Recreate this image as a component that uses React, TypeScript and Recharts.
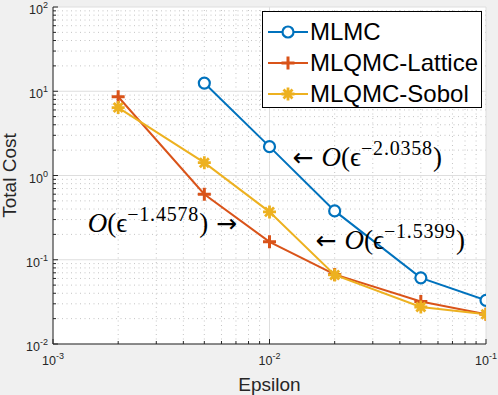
import {
  LineChart,
  Line,
  XAxis,
  YAxis,
  CartesianGrid,
  ReferenceLine,
  ReferenceDot,
  Legend,
} from "recharts";

// Epsilon values and total cost per method
const epsMLMC = [0.005, 0.01, 0.02, 0.05, 0.1];
const costMLMC = [12.5, 2.2, 0.38, 0.061, 0.033];
const epsQMC = [0.002, 0.005, 0.01, 0.02, 0.05, 0.1];
const costLattice = [8.6, 0.6, 0.163, 0.067, 0.032, 0.0225];
const costSobol = [6.4, 1.42, 0.37, 0.066, 0.0275, 0.0225];

// decade ticks and the minor grid between them
const xMajor = [0.001, 0.01, 0.1];
const xMinor = [
  0.002, 0.003, 0.004, 0.005, 0.006, 0.007, 0.008, 0.009,
  0.02, 0.03, 0.04, 0.05, 0.06, 0.07, 0.08, 0.09,
];
const yMajor = [0.01, 0.1, 1, 10, 100];
const yMinor = [
  0.02, 0.03, 0.04, 0.05, 0.06, 0.07, 0.08, 0.09,
  0.2, 0.3, 0.4, 0.5, 0.6, 0.7, 0.8, 0.9,
  2, 3, 4, 5, 6, 7, 8, 9,
  20, 30, 40, 50, 60, 70, 80, 90,
];
const tickExp: Record<string, string> = {
  "0.001": "-3", "0.01": "-2", "0.1": "-1", "1": "0", "10": "1", "100": "2",
};

// slope annotations: anchor (eps, cost) at the text baseline
const notes = [
  { x: 0.0128, y: 1.28, exp: "\u22122.0358", side: "left" },
  { x: 0.00708, y: 0.211, exp: "\u22121.4578", side: "right" },
  { x: 0.01634, y: 0.1325, exp: "\u22121.5399", side: "left" },
];

const series = [
  { name: "MLMC", color: "#0072BD", marker: "circle", xs: epsMLMC, ys: costMLMC },
  { name: "MLQMC-Lattice", color: "#D95319", marker: "plus", xs: epsQMC, ys: costLattice },
  { name: "MLQMC-Sobol", color: "#EDB120", marker: "star", xs: epsQMC, ys: costSobol },
];

const AX = "#262626";
const SANS = "'Liberation Sans', Arial, Helvetica, sans-serif";
const SERIF = "'Liberation Serif', 'Times New Roman', serif";

const isMajor = (v: number) => xMajor.includes(v) || yMajor.includes(v);

function Marker({ cx, cy, kind, color }: { cx: number; cy: number; kind: string; color: string }) {
  if (cx == null || cy == null) return null;
  if (kind === "circle")
    return <circle cx={cx} cy={cy} r={5.5} fill="#fff" stroke={color} strokeWidth={2.2} />;
  if (kind === "plus")
    return (
      <path
        d={`M${cx - 6.5},${cy}H${cx + 6.5}M${cx},${cy - 6.5}V${cy + 6.5}`}
        stroke={color}
        strokeWidth={3}
        fill="none"
      />
    );
  const d = 4.5;
  return (
    <path
      d={`M${cx - 6.5},${cy}H${cx + 6.5}M${cx},${cy - 6.5}V${cy + 6.5}M${cx - d},${cy - d}L${cx + d},${cy + d}M${cx - d},${cy + d}L${cx + d},${cy - d}`}
      stroke={color}
      strokeWidth={2.8}
      fill="none"
    />
  );
}

function Sup({ base, exp, x, y, anchor }: { base: string; exp: string; x: number; y: number; anchor: string }) {
  return (
    <text x={x} y={y} textAnchor={anchor} fontFamily={SANS} fill={AX}>
      <tspan fontSize={12.5}>{base}</tspan>
      <tspan fontSize={9} dy={-6}>{exp}</tspan>
    </text>
  );
}

function XTick(props: any) {
  const { x, y, payload } = props;
  const v = payload.value;
  const len = isMajor(v) ? 5 : 3;
  return (
    <g>
      <line x1={x} x2={x} y1={y} y2={y - len} stroke={AX} />
      {isMajor(v) && <Sup base="10" exp={tickExp[String(v)]} x={x} y={y + 21} anchor="middle" />}
    </g>
  );
}

function XTickTop(props: any) {
  const { x, y, payload } = props;
  const len = isMajor(payload.value) ? 5 : 3;
  return <line x1={x} x2={x} y1={y} y2={y + len} stroke={AX} />;
}

function YTick(props: any) {
  const { x, y, payload } = props;
  const v = payload.value;
  const len = isMajor(v) ? 5 : 3;
  return (
    <g>
      <line x1={x} x2={x + len} y1={y} y2={y} stroke={AX} />
      {isMajor(v) && <Sup base="10" exp={tickExp[String(v)]} x={x - 5} y={y + 7} anchor="end" />}
    </g>
  );
}

function YTickRight(props: any) {
  const { x, y, payload } = props;
  const len = isMajor(payload.value) ? 5 : 3;
  return <line x1={x} x2={x - len} y1={y} y2={y} stroke={AX} />;
}

function Note({ cx, cy, exp, side }: { cx: number; cy: number; exp: string; side: string }) {
  return (
    <text x={cx} y={cy} textAnchor={side === "left" ? "start" : "end"} fontFamily={SERIF} fontSize={27} fill="#000">
      {side === "left" && <tspan fontFamily="'DejaVu Sans'" fontSize={25}>{"\u2190 "}</tspan>}
      <tspan fontStyle="italic">O</tspan>
      <tspan>{"(\u03f5"}</tspan>
      <tspan fontSize={20} dy={-11} letterSpacing={0.8}>{exp}</tspan>
      <tspan dy={11}>)</tspan>
      {side === "right" && <tspan fontFamily="'DejaVu Sans'" fontSize={25}>{" \u2192"}</tspan>}
    </text>
  );
}

function LegendBox({ payload }: any) {
  return (
    <div
      style={{
        background: "#fff",
        border: "1px solid #000",
        boxSizing: "border-box",
        width: 220,
        height: 97,
        padding: "4px 0 0 4px",
      }}
    >
      {(payload || []).map((p: any) => {
        const s = series.find((q) => q.name === p.value);
        return (
          <div key={p.value} style={{ display: "flex", alignItems: "center", height: 31 }}>
            <svg width={43} height={20}>
              <line x1={1} x2={41} y1={10} y2={10} stroke={p.color} strokeWidth={2} />
              <Marker cx={21} cy={10} kind={s ? s.marker : "circle"} color={p.color} />
            </svg>
            <span style={{ fontFamily: SANS, fontSize: 24, color: "#000", lineHeight: "31px" }}>
              {p.value}
            </span>
          </div>
        );
      })}
    </div>
  );
}

export default function App() {
  return (
    <div
      style={{
        position: "fixed",
        left: 0,
        top: 0,
        width: 498,
        height: 395,
        background: "#f0f0f0",
      }}
    >
      <LineChart width={498} height={395} margin={{ top: 7, right: 12, left: 0, bottom: 0 }}>
        <CartesianGrid fill="#ffffff" horizontal={false} vertical={false} />
        {xMinor.map((v) => (
          <ReferenceLine key={`xm${v}`} x={v} stroke="#c4c4c4" strokeDasharray="1 3.5" />
        ))}
        {yMinor.map((v) => (
          <ReferenceLine key={`ym${v}`} y={v} stroke="#c4c4c4" strokeDasharray="1 3.5" />
        ))}
        {xMajor.map((v) => (
          <ReferenceLine key={`xM${v}`} x={v} stroke="#dedede" />
        ))}
        {yMajor.map((v) => (
          <ReferenceLine key={`yM${v}`} y={v} stroke="#dedede" />
        ))}
        <XAxis
          dataKey="x"
          type="number"
          scale="log"
          domain={[0.001, 0.1]}
          allowDataOverflow
          ticks={[...xMajor, ...xMinor]}
          interval={0}
          tick={<XTick />}
          tickLine={false}
          tickSize={0}
          tickMargin={0}
          height={51}
          axisLine={{ stroke: AX }}
          label={{ value: "Epsilon", position: "insideBottom", offset: 4, fontFamily: SANS, fontSize: 19, fill: AX }}
        />
        <XAxis
          xAxisId="top"
          dataKey="x"
          type="number"
          scale="log"
          orientation="top"
          domain={[0.001, 0.1]}
          allowDataOverflow
          ticks={[...xMajor, ...xMinor]}
          interval={0}
          tick={<XTickTop />}
          tickLine={false}
          tickSize={0}
          tickMargin={0}
          height={0}
          axisLine={{ stroke: AX }}
        />
        <YAxis
          type="number"
          scale="log"
          domain={[0.01, 100]}
          allowDataOverflow
          ticks={[...yMajor, ...yMinor]}
          interval={0}
          tick={<YTick />}
          tickLine={false}
          tickSize={0}
          tickMargin={0}
          width={53}
          axisLine={{ stroke: AX }}
          label={(lp: any) => {
            const vb = lp.viewBox || { x: 0, y: 7, height: 337 };
            const tx = vb.x + 16;
            const ty = vb.y + vb.height / 2;
            return (
              <text
                x={tx}
                y={ty}
                transform={`rotate(-90, ${tx}, ${ty})`}
                textAnchor="middle"
                fontFamily={SANS}
                fontSize={19}
                fill={AX}
              >
                Total Cost
              </text>
            );
          }}
        />
        <YAxis
          yAxisId="right"
          orientation="right"
          type="number"
          scale="log"
          domain={[0.01, 100]}
          allowDataOverflow
          ticks={[...yMajor, ...yMinor]}
          interval={0}
          tick={<YTickRight />}
          tickLine={false}
          tickSize={0}
          tickMargin={0}
          width={0}
          axisLine={{ stroke: AX }}
        />
        {series.map((s) => (
          <Line
            key={s.name}
            name={s.name}
            data={s.xs.map((x, i) => ({ x, y: s.ys[i] }))}
            dataKey="y"
            stroke={s.color}
            strokeWidth={2}
            isAnimationActive={false}
            dot={(p: any) => <Marker key={`${s.name}${p.index}`} cx={p.cx} cy={p.cy} kind={s.marker} color={s.color} />}
            activeDot={false}
          />
        ))}
        {notes.map((n) => (
          <ReferenceDot
            key={n.exp}
            x={n.x}
            y={n.y}
            r={0}
            ifOverflow="visible"
            shape={(p: any) => <Note cx={p.cx} cy={p.cy} exp={n.exp} side={n.side} />}
          />
        ))}
        <Legend
          layout="horizontal"
          verticalAlign="middle"
          align="center"
          content={<LegendBox />}
          wrapperStyle={{ left: 262, top: 11, width: 220, height: 97 }}
        />
      </LineChart>
    </div>
  );
}
